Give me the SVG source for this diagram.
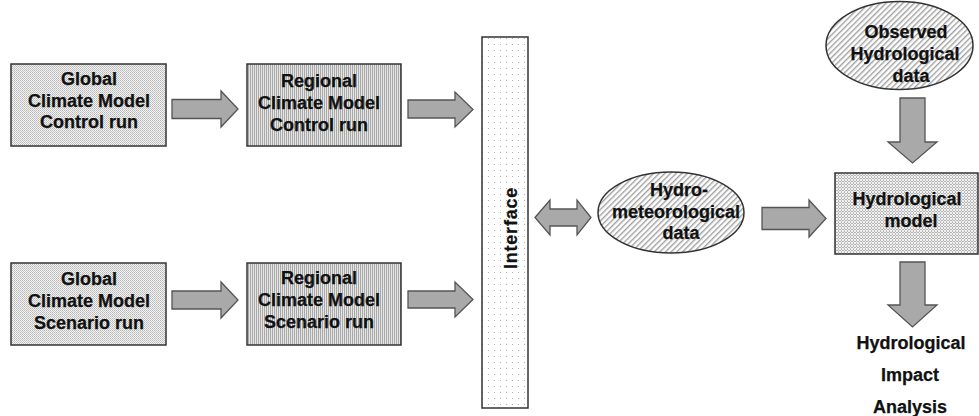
<svg xmlns="http://www.w3.org/2000/svg" width="979" height="416" viewBox="0 0 979 416">
  <defs>
    <!-- fine dotted fill for global model boxes -->
    <pattern id="dots" width="2" height="2" patternUnits="userSpaceOnUse">
      <rect width="2" height="2" fill="#f2f2f2"/>
      <rect width="1" height="1" fill="#b8b8b8"/>
      <rect x="1" y="1" width="1" height="1" fill="#c8c8c8"/>
    </pattern>
    <!-- vertical stripes for regional model boxes -->
    <pattern id="vstripes" width="2" height="2" patternUnits="userSpaceOnUse">
      <rect width="2" height="2" fill="#e6e6e6"/>
      <rect width="1" height="2" fill="#a8a8a8"/>
    </pattern>
    <!-- sparse dots for the interface bar -->
    <pattern id="sparse" width="6" height="6" patternUnits="userSpaceOnUse">
      <rect width="6" height="6" fill="#ffffff"/>
      <rect x="2" y="2" width="1" height="1" fill="#b0b0b0"/>
    </pattern>
    <!-- diagonal hatch for data ellipses -->
    <pattern id="hatch" width="4" height="4" patternUnits="userSpaceOnUse" patternTransform="rotate(45)">
      <rect width="4" height="4" fill="#ffffff"/>
      <rect width="1.4" height="4" fill="#a0a0a0"/>
    </pattern>
    <!-- cross-hatch for the hydrological model box -->
    <pattern id="cross" width="3" height="3" patternUnits="userSpaceOnUse">
      <rect width="3" height="3" fill="#f0f0f0"/>
      <rect x="1" y="0" width="1" height="1" fill="#b4b4b4"/>
      <rect x="0" y="1" width="1" height="1" fill="#b4b4b4"/>
      <rect x="2" y="1" width="1" height="1" fill="#b4b4b4"/>
      <rect x="1" y="2" width="1" height="1" fill="#c4c4c4"/>
    </pattern>
  </defs>
  <style>
    .box { stroke: #333333; stroke-width: 1.5; }
    .arrow { fill: #a9a9a9; stroke: #555555; stroke-width: 1.3; stroke-linejoin: miter; }
    .lbl { font-family: "Liberation Sans", Arial, sans-serif; font-weight: bold; font-size: 18px; fill: #111111; text-anchor: middle; stroke: #111111; stroke-width: 0.25; }
  </style>

  <rect width="979" height="416" fill="#ffffff"/>

  <g id="gcm-control">
    <rect class="box" x="11" y="64" width="155" height="82" fill="url(#dots)"/>
    <text class="lbl" x="89" y="85">Global</text>
    <text class="lbl" x="89" y="107">Climate Model</text>
    <text class="lbl" x="89" y="128">Control run</text>
  </g>

  <g id="gcm-scenario">
    <rect class="box" x="11" y="263" width="155" height="82" fill="url(#dots)"/>
    <text class="lbl" x="89" y="285">Global</text>
    <text class="lbl" x="89" y="307">Climate Model</text>
    <text class="lbl" x="89" y="329">Scenario run</text>
  </g>

  <g id="rcm-control">
    <rect class="box" x="247" y="64" width="154" height="82" fill="url(#vstripes)"/>
    <text class="lbl" x="319" y="87">Regional</text>
    <text class="lbl" x="319" y="109">Climate Model</text>
    <text class="lbl" x="319" y="131">Control run</text>
  </g>

  <g id="rcm-scenario">
    <rect class="box" x="247" y="263" width="154" height="82" fill="url(#vstripes)"/>
    <text class="lbl" x="319" y="284">Regional</text>
    <text class="lbl" x="319" y="306">Climate Model</text>
    <text class="lbl" x="319" y="328">Scenario run</text>
  </g>

  <g id="interface">
    <rect class="box" x="482" y="37" width="46" height="371" fill="url(#sparse)"/>
    <text class="lbl" transform="translate(517 228) rotate(-90)" letter-spacing="0.8">Interface</text>
  </g>

  <g id="hydro-met-data">
    <ellipse class="box" cx="671" cy="212.5" rx="73" ry="40.5" fill="url(#hatch)"/>
    <text class="lbl" x="679" y="196">Hydro-</text>
    <text class="lbl" x="676" y="218">meteorological</text>
    <text class="lbl" x="681" y="239">data</text>
  </g>

  <g id="observed-data">
    <ellipse class="box" cx="899.5" cy="45.5" rx="73.5" ry="44" fill="url(#hatch)"/>
    <text class="lbl" x="906" y="38">Observed</text>
    <text class="lbl" x="905" y="60">Hydrological</text>
    <text class="lbl" x="911" y="82">data</text>
  </g>

  <g id="hydro-model">
    <rect class="box" x="835" y="173" width="143" height="81" fill="url(#cross)"/>
    <text class="lbl" x="907" y="205">Hydrological</text>
    <text class="lbl" x="911" y="227">model</text>
  </g>

  <g id="impact-analysis">
    <text class="lbl" x="911" y="349">Hydrological</text>
    <text class="lbl" x="910" y="381">Impact</text>
    <text class="lbl" x="910" y="413">Analysis</text>
  </g>

  <g id="connectors">
    <!-- global -> regional, control -->
    <polygon class="arrow" points="172,99.5 221,99.5 221,91 238,109 221,127 221,118.5 172,118.5"/>
    <!-- global -> regional, scenario -->
    <polygon class="arrow" points="172,291 221,291 221,282 238,300 221,318 221,309 172,309"/>
    <!-- regional control -> interface -->
    <polygon class="arrow" points="408,100 455,100 455,92 473,109.5 455,127 455,118 408,118"/>
    <!-- regional scenario -> interface -->
    <polygon class="arrow" points="408,291 455,291 455,282 473,299.5 455,317 455,308 408,308"/>
    <!-- interface <-> hydro-meteorological data -->
    <polygon class="arrow" points="535,217.5 550,200 550,209 577,209 577,200 591,217.5 577,235 577,226 550,226 550,235"/>
    <!-- hydro-meteorological data -> hydrological model -->
    <polygon class="arrow" points="762,207.5 809,207.5 809,200 826,218.5 809,237 809,229.5 762,229.5"/>
    <!-- observed data -> hydrological model -->
    <polygon class="arrow" points="900,98 925,98 925,142 937,142 912.5,163 888,142 900,142"/>
    <!-- hydrological model -> impact analysis -->
    <polygon class="arrow" points="900,262 925,262 925,305 937,305 912.5,327 888,305 900,305"/>
  </g>
</svg>
